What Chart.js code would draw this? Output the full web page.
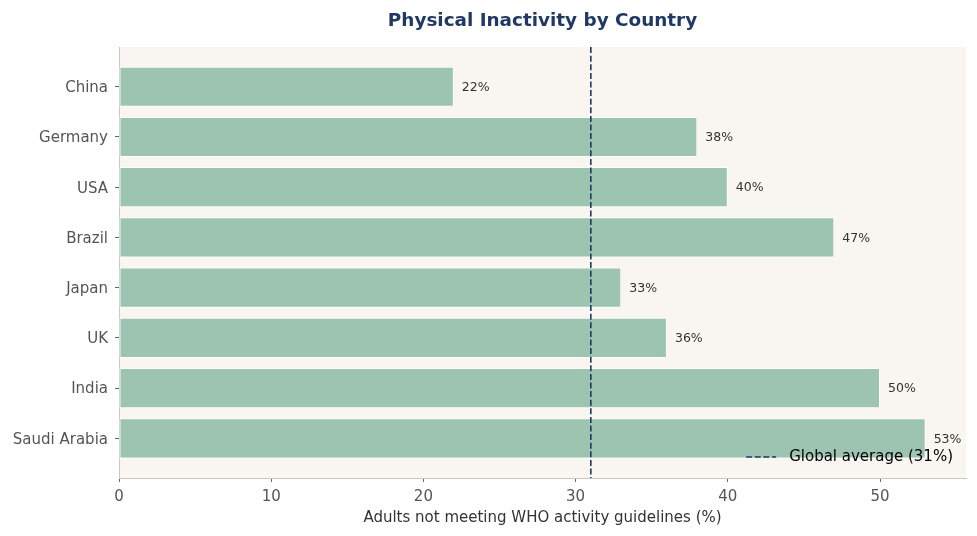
<!DOCTYPE html>
<html>
<head>
<meta charset="utf-8">
<script src="https://cdn.jsdelivr.net/npm/chart.js@4.4.1/dist/chart.umd.min.js"></script>
<style>
  html, body { margin: 0; padding: 0; background: #fff; }
  #wrap { width: 977px; height: 536px; }
</style>
</head>
<body>
<div id="wrap"><canvas id="chart" width="977" height="536"></canvas></div>
<script>
var countries = ["China", "Germany", "USA", "Brazil", "Japan", "UK", "India", "Saudi Arabia"]
var inactivity = [22, 38, 40, 47, 33, 36, 50, 53]
var globalAvg = 31
var xTicks = [0, 10, 20, 30, 40, 50]

var navy = "#1f3864"
var fam = "DejaVu Sans"
Chart.defaults.font.family = fam

// plot background + average line + value labels + legend
var decor = {
  id: "decor",
  beforeDraw: function (chart) {
    var a = chart.chartArea, ctx = chart.ctx
    ctx.save()
    ctx.fillStyle = "#f9f6f1"
    ctx.fillRect(a.left, a.top, a.right - a.left, a.bottom - a.top)
    ctx.restore()
  },
  afterDatasetsDraw: function (chart) {
    var a = chart.chartArea, ctx = chart.ctx
    var meta = chart.getDatasetMeta(0)
    ctx.save()
    ctx.font = "12.5px 'DejaVu Sans'"
    ctx.fillStyle = "#333"
    ctx.textAlign = "left"
    ctx.textBaseline = "middle"
    meta.data.forEach(function (bar, i) {
      ctx.fillText(inactivity[i] + "%", bar.x + 8, bar.y + 1)
    })
    var x = chart.scales.x.getPixelForValue(globalAvg)
    ctx.strokeStyle = navy
    ctx.lineWidth = 1.6
    ctx.setLineDash([6, 2.6])
    ctx.beginPath()
    ctx.moveTo(x, a.top)
    ctx.lineTo(x, a.bottom)
    ctx.stroke()

    // legend, bottom right inside the plot
    var label = "Global average (" + globalAvg + "%)"
    ctx.font = "15px 'DejaVu Sans'"
    var w = ctx.measureText(label).width
    var tx = a.right - 13 - w
    var ty = a.bottom - 21
    ctx.beginPath()
    ctx.moveTo(tx - 43, ty)
    ctx.lineTo(tx - 13, ty)
    ctx.stroke()
    ctx.setLineDash([])
    ctx.fillStyle = "#000"
    ctx.fillText(label, tx, ty)
    ctx.restore()
  }
}

new Chart(document.getElementById("chart"), {
  type: "bar",
  data: {
    datasets: [{
      label: "Inactivity",
      data: inactivity.map(function (v, i) { return {x: v, y: i} }),
      backgroundColor: "#9dc4b1",
      borderColor: "#ffffff",
      borderWidth: 1,
      borderSkipped: false,
      barPercentage: 0.8,
      categoryPercentage: 1.0
    }]
  },
  options: {
    indexAxis: "y",
    responsive: false,
    animation: false,
    layout: { padding: { left: 0, right: 11, top: 0, bottom: 0 } },
    plugins: {
      legend: { display: false },
      tooltip: { enabled: false },
      title: {
        display: true,
        fullSize: false,
        text: "Physical Inactivity by Country",
        color: navy,
        font: { family: fam, size: 18.4, weight: "bold" },
        padding: { top: 10, bottom: 15 }
      }
    },
    scales: {
      x: {
        type: "linear",
        min: 0,
        max: 55.65,
        afterBuildTicks: function (s) { s.ticks = xTicks.map(function (v) { return {value: v} }) },
        afterFit: function (s) { s.height = 58 },
        ticks: { color: "#555", font: { family: fam, size: 15 }, padding: 6 },
        grid: { drawOnChartArea: false, drawTicks: true, tickLength: 4, color: "#666" },
        border: { color: "#c8c8c8" },
        title: {
          display: true,
          text: "Adults not meeting WHO activity guidelines (%)",
          color: "#333",
          font: { family: fam, size: 15 },
          padding: { top: 4, bottom: 9 }
        }
      },
      y: {
        type: "linear",
        reverse: true,
        offset: false,
        min: -0.79,
        max: 7.79,
        afterBuildTicks: function (s) { s.ticks = countries.map(function (c, i) { return {value: i} }) },
        afterFit: function (s) { s.width = 119 },
        ticks: {
          color: "#555",
          font: { family: fam, size: 15 },
          padding: 7,
          labelOffset: 1.5,
          callback: function (v) { return countries[v] }
        },
        grid: { offset: false, drawOnChartArea: false, drawTicks: true, tickLength: 4, color: "#666" },
        border: { color: "#c8c8c8" }
      }
    }
  },
  plugins: [decor]
})
</script>
</body>
</html>
